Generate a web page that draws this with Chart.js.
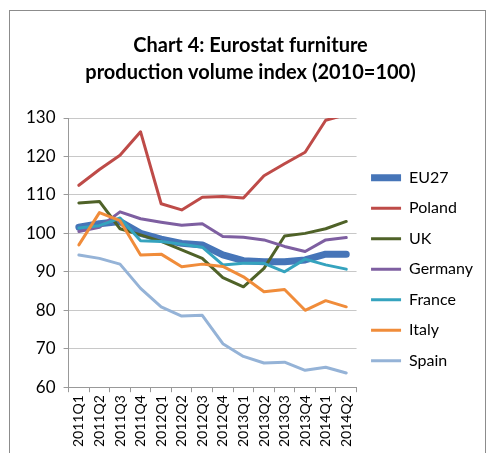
<!DOCTYPE html>
<html>
<head>
<meta charset="utf-8">
<script src="https://cdn.jsdelivr.net/npm/chart.js@4"></script>
<style>
  html, body { margin: 0; padding: 0; background: #fff; }
  #wrap { position: absolute; left: 0; top: 0; width: 489px; height: 453px; }
</style>
</head>
<body>
<div id="wrap"><canvas id="furnitureChart" width="489" height="453"></canvas></div>
<script>
const quarters = ['2011Q1', '2011Q2', '2011Q3', '2011Q4', '2012Q1', '2012Q2', '2012Q3', '2012Q4',
    '2013Q1', '2013Q2', '2013Q3', '2013Q4', '2014Q1', '2014Q2'];
const eu27 = [101.6, 102.5, 103.1, 100.0, 98.5, 97.4, 97.0, 94.4, 92.9, 92.6, 92.6, 93.1, 94.6, 94.6];
const poland = [112.5, 116.6, 120.3, 126.4, 107.7, 106.1, 109.4, 109.6, 109.2, 115.0, 118.1, 121.1, 129.4, 130.9];
const uk = [107.9, 108.3, 101.2, 99.6, 97.9, 95.7, 93.5, 88.5, 86.1, 90.9, 99.3, 100.0, 101.2, 103.1];
const germany = [100.5, 101.6, 105.6, 103.8, 102.9, 102.1, 102.5, 99.2, 99.0, 98.3, 96.6, 95.3, 98.3, 98.9];
const france = [101.4, 102.0, 104.0, 98.1, 97.9, 97.2, 96.4, 91.8, 92.2, 92.2, 90.0, 93.3, 91.8, 90.7];
const italy = [97.0, 105.4, 103.3, 94.4, 94.6, 91.3, 92.0, 91.4, 88.7, 84.8, 85.4, 80.0, 82.5, 80.9];
const spain = [94.4, 93.5, 92.0, 85.7, 80.9, 78.5, 78.7, 71.3, 68.0, 66.3, 66.5, 64.4, 65.2, 63.7];

const fontFamily = 'Lato, "Open Sans", sans-serif';

// gray frame around the whole chart, like the Excel chart area border
const framePlugin = {
    id: 'frame',
    beforeDraw(chart) {
        const ctx = chart.ctx;
        ctx.save();
        ctx.fillStyle = '#fff';
        ctx.fillRect(0, 0, chart.width, chart.height);
        ctx.strokeStyle = '#8c8c8c';
        ctx.lineWidth = 1;
        ctx.strokeRect(9.5, 10.5, 476, 460);
        ctx.restore();
    }
};

function series(label, data, color, width, order) {
    return {
        label: label,
        data: data,
        borderColor: color,
        backgroundColor: color,
        borderWidth: width,
        pointRadius: 0,
        pointHoverRadius: 0,
        tension: 0,
        borderCapStyle: 'round',
        borderJoinStyle: 'round',
        order: order
    };
}

const ctx = document.getElementById('furnitureChart').getContext('2d');
const furnitureChart = new Chart(ctx, {
    type: 'line',
    data: {
        labels: quarters,
        datasets: [
            series('EU27', eu27, '#4675B8', 7, 7),
            series('Poland', poland, '#BE4B48', 3, 6),
            series('UK', uk, '#4F6228', 3, 5),
            series('Germany', germany, '#7E5FA1', 3, 4),
            series('France', france, '#35A3BE', 3, 3),
            series('Italy', italy, '#F08C3A', 3, 2),
            series('Spain', spain, '#95B3D7', 3, 1)
        ]
    },
    options: {
        responsive: false,
        animation: false,
        layout: {
            padding: { top: 32, left: 18, right: 6, bottom: 3 }
        },
        plugins: {
            title: {
                display: true,
                text: ['Chart 4: Eurostat furniture', 'production volume index (2010=100)'],
                color: '#000',
                font: { family: fontFamily, size: 20, weight: 'bold', lineHeight: 1.35 },
                padding: { top: 0, bottom: 32 }
            },
            legend: {
                position: 'right',
                maxWidth: 160,
                title: {
                    display: true,
                    text: ' ',
                    font: { family: fontFamily, size: 12 },
                    padding: { top: 42, bottom: 0 }
                },
                labels: {
                    usePointStyle: true,
                    pointStyle: 'line',
                    pointStyleWidth: 30,
                    boxHeight: 16,
                    padding: 14.5,
                    color: '#000',
                    font: { family: fontFamily, size: 16 },
                    sort: (a, b) => a.datasetIndex - b.datasetIndex
                }
            },
            tooltip: { enabled: false }
        },
        scales: {
            x: {
                offset: true,
                grid: {
                    offset: true,
                    drawOnChartArea: false,
                    drawTicks: true,
                    tickLength: 5,
                    color: '#999'
                },
                border: { color: '#999' },
                ticks: {
                    color: '#000',
                    maxRotation: 90,
                    minRotation: 90,
                    autoSkip: false,
                    font: { family: fontFamily, size: 14 }
                }
            },
            y: {
                min: 60,
                max: 130,
                ticks: {
                    stepSize: 10,
                    color: '#000',
                    padding: 8,
                    font: { family: fontFamily, size: 17 }
                },
                grid: {
                    color: '#c8c8c8',
                    tickLength: 5,
                    tickColor: '#999'
                },
                border: { color: '#999' }
            }
        }
    },
    plugins: [framePlugin]
});
</script>
</body>
</html>
